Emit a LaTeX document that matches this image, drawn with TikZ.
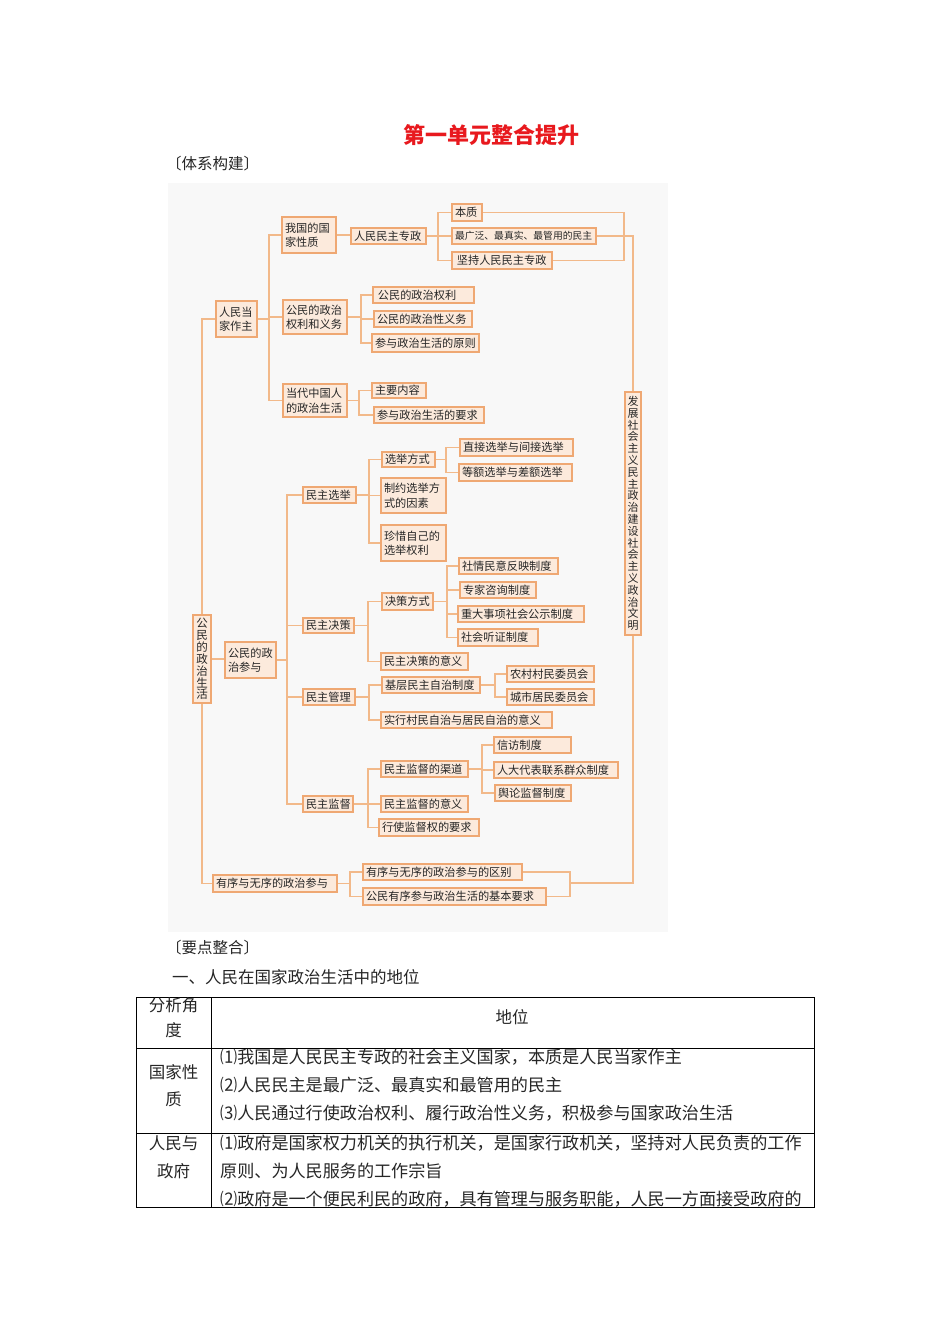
\documentclass[tikz,border=0pt]{standalone}
\usepackage{fontspec}
\setmainfont{Noto Sans CJK SC}
\usetikzlibrary{calc}
\definecolor{bxfill}{HTML}{FCEADC}
\definecolor{bxdraw}{HTML}{EFA873}
\definecolor{lnc}{HTML}{F2B98A}
\definecolor{titlered}{HTML}{E8191E}
\definecolor{bgc}{HTML}{F8F8F8}
\tikzset{
  bx/.style={draw=bxdraw, fill=bxfill, line width=1.1pt, inner xsep=3pt, inner ysep=0pt,
    align=left, font=\fontsize{11.2}{14.5}\selectfont, text=black!85},
  vbx/.style={draw=bxdraw, fill=bxfill, line width=1.1pt, inner sep=0pt, align=center,
    font=\fontsize{11}{11.8}\selectfont, text=black!85},
  ln/.style={draw=lnc, line width=1.2pt},
  tline/.style={draw=black, line width=0.8pt},
  body/.style={font=\fontsize{17.1}{19}\selectfont, inner sep=0pt, anchor=west, text=black!85},
  bodyc/.style={inner sep=0pt, align=center, text=black!85},
}
\newcommand\mybox[6]{%
  \pgfmathsetmacro\bxw{#4-#2-6}%
  \pgfmathsetmacro\bxh{#5-#3}%
  \pgfmathsetmacro\bxcx{(#2+#4)/2}%
  \pgfmathsetmacro\bxcy{(#3+#5)/2}%
  \node[bx,text width=\bxw pt,minimum height=\bxh pt] (#1) at (\bxcx,\bxcy) {#6};}
\newcommand\brk[3]{%
  \coordinate (brkx) at (#2,0);
  \foreach \ch in {#3}{\draw[ln] (#1.east) -- (#1.east -| brkx) |- (\ch.west);}}
\begin{document}
\begin{tikzpicture}[x=1pt,y=-1pt]
\useasboundingbox (0,0) rectangle (950,1344);
\fill[white] (0,0) rectangle (950,1344);
% title
\node[font=\fontsize{22}{24}\selectfont\bfseries, text=titlered, inner sep=0pt] (title) at (491,135) {第一单元整合提升};
\node[font=\fontsize{15.5}{17}\selectfont, inner sep=0pt, anchor=west, text=black!85] (tx) at (166,164) {〔体系构建〕};
% diagram background
\fill[bgc] (168,183) rectangle (668,932);
% boxes
\mybox{gx}{282}{217}{336}{253}{我国的国\\家性质}
\mybox{rz}{351}{228}{426}{244}{人民民主专政}
\mybox{bz}{452}{204}{482}{221}{本质}
\mybox{zg}{452}{228}{596}{244}{\fontsize{9.8}{11}\selectfont 最广泛、最真实、最管用的民主}
\mybox{jc}{452}{252}{552}{269}{\,坚持人民民主专政}
\mybox{rm}{216}{301}{257}{337}{人民当\\家作主}
\mybox{qy}{283}{300}{347}{334}{公民的政治\\权利和义务}
\mybox{zq}{373}{287}{474}{303}{\,公民的政治权利}
\mybox{yw}{374}{311}{472}{327}{公民的政治性义务}
\mybox{yz}{372}{334}{479}{352}{参与政治生活的原则}
\mybox{dd}{283}{384}{347}{417}{当代中国人\\的政治生活}
\mybox{zy}{372}{383}{426}{398}{主要内容}
\mybox{yq1}{374}{407}{484}{423}{参与政治生活的要求}
\node[vbx, minimum width=16pt, minimum height=243pt] (fz) at (633,513.5)
  {发\\展\\社\\会\\主\\义\\民\\主\\政\\治\\建\\设\\社\\会\\主\\义\\政\\治\\文\\明};
\mybox{mx}{303}{487}{356}{503}{民主选举}
\mybox{xf}{382}{452}{435}{467}{选举方式}
\mybox{zy2}{381}{478}{446}{513}{制约选举方\\式的因素}
\mybox{zx}{381}{525}{446}{561}{珍惜自己的\\选举权利}
\mybox{zj}{460}{439}{573}{456}{直接选举与间接选举}
\mybox{de}{459}{464}{572}{481}{等额选举与差额选举}
\node[vbx, minimum width=18pt, minimum height=88pt, font=\fontsize{11.5}{11.9}\selectfont] (zz) at (202,659)
  {公\\民\\的\\政\\治\\生\\活};
\mybox{cy}{225}{642}{276}{678}{公民的政\\治参与}
\mybox{mc}{303}{618}{354}{633}{民主决策}
\mybox{jf}{382}{593}{433}{610}{决策方式}
\mybox{jy}{381}{653}{468}{670}{民主决策的意义}
\mybox{sq}{459}{558}{558}{574}{社情民意反映制度}
\mybox{zj2}{460}{582}{536}{598}{专家咨询制度}
\mybox{zd}{458}{606}{584}{622}{重大事项社会公示制度}
\mybox{tz}{458}{629}{538}{646}{社会听证制度}
\mybox{mg}{303}{689}{355}{705}{民主管理}
\mybox{jc2}{382}{677}{480}{693}{基层民主自治制度}
\mybox{sx}{381}{712}{552}{728}{实行村民自治与居民自治的意义}
\mybox{nc}{507}{666}{594}{682}{农村村民委员会}
\mybox{cs}{507}{689}{594}{705}{城市居民委员会}
\mybox{md}{303}{796}{353}{812}{民主监督}
\mybox{qd}{381}{761}{468}{777}{民主监督的渠道}
\mybox{yy}{381}{796}{468}{812}{民主监督的意义}
\mybox{xs}{379}{819}{479}{836}{行使监督权的要求}
\mybox{xf2}{494}{737}{571}{753}{信访制度}
\mybox{rd}{494}{762}{618}{778}{人大代表联系群众制度}
\mybox{yl}{495}{785}{571}{801}{舆论监督制度}
\mybox{yx}{213}{875}{337}{892}{有序与无序的政治参与}
\mybox{qb}{363}{864}{522}{880}{有序与无序的政治参与的区别}
\mybox{yq}{363}{888}{546}{905}{公民有序参与政治生活的基本要求}
% connectors
\draw[ln] (gx.east) -- (gx.east -| rz.west);
\brk{rz}{438}{bz,zg,jc}
\brk{rm}{269}{gx,qy,dd}
\brk{qy}{361}{zq,yw,yz}
\brk{dd}{359}{zy,yq1}
\brk{cy}{287}{mx,mc,mg,md}
\brk{mx}{369}{xf,zy2,zx}
\brk{xf}{446}{zj,de}
\brk{mc}{368}{jf,jy}
\brk{jf}{447}{sq,zj2,zd,tz}
\brk{mg}{369}{jc2,sx}
\brk{jc2}{495}{nc,cs}
\brk{md}{368}{qd,yy,xs}
\brk{qd}{482}{xf2,rd,yl}
\brk{yx}{350}{qb,yq}
\draw[ln] (zz.north) |- (rm.west);
\draw[ln] (zz.south) |- (yx.west);
\draw[ln] (zz.east) -- (zz.east -| cy.west);
\coordinate (r1) at (624,0);
\draw[ln] (bz.east) -- (bz.east -| r1) |- (jc.east);
\draw[ln] (zg.east) -| (fz.north);
\coordinate (r2) at (570,883);
\draw[ln] (fz.south) |- (r2);
\draw[ln] (qb.east) -| (r2);
\draw[ln] (yq.east) -| (r2);
% lower text
\node[font=\fontsize{15.5}{17}\selectfont, inner sep=0pt, anchor=west, text=black!85] (yd) at (166,948) {〔要点整合〕};
\node[body, font=\fontsize{16.5}{18}\selectfont] (s1) at (172,977) {一、人民在国家政治生活中的地位};
% table
\draw[tline] (136,997) rectangle (814,1207);
\draw[tline] (211,997) -- (211,1207);
\draw[tline] (136,1048) -- (814,1048);
\draw[tline] (136,1133) -- (814,1133);
\node[bodyc, font=\fontsize{16.5}{25}\selectfont] (h1) at (173.5,1018) {分析角\\度};
\node[bodyc, font=\fontsize{16.5}{18}\selectfont] (h2) at (512,1017) {地位};
\node[bodyc, font=\fontsize{16.5}{27}\selectfont] (r2l) at (173.5,1085.5) {国家性\\质};
\node[bodyc, font=\fontsize{16.5}{28}\selectfont] (r3l) at (173.5,1157) {人民与\\政府};
\node[body] (t1) at (220,1057) {⑴我国是人民民主专政的社会主义国家，本质是人民当家作主};
\node[body] (t2) at (220,1085) {⑵人民民主是最广泛、最真实和最管用的民主};
\node[body] (t3) at (220,1113) {⑶人民通过行使政治权利、履行政治性义务，积极参与国家政治生活};
\node[body] (t4) at (220,1143) {⑴政府是国家权力机关的执行机关，是国家行政机关，坚持对人民负责的工作};
\node[body] (t5) at (220,1171) {原则、为人民服务的工作宗旨};
\node[body] (t6) at (220,1199) {⑵政府是一个便民利民的政府，具有管理与服务职能，人民一方面接受政府的};
\end{tikzpicture}
\end{document}
